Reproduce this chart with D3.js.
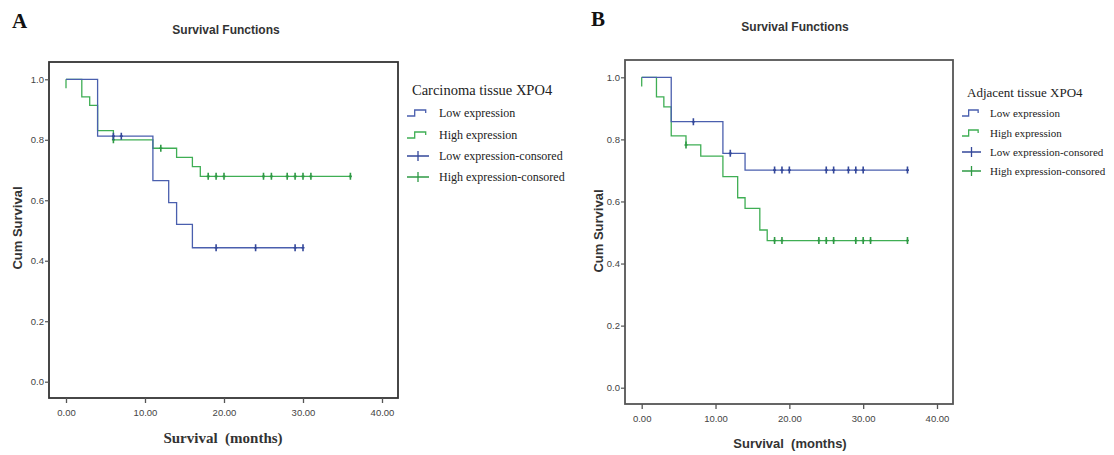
<!DOCTYPE html>
<html>
<head>
<meta charset="utf-8">
<script src="https://cdn.jsdelivr.net/npm/d3@7"></script>
<style>
  body { margin: 0; background: #fff; }
  .tick-label { font-family: Arial, "Liberation Sans", sans-serif; font-size: 9.5px; fill: #444; }
  .panel-title { font-family: Arial, "Liberation Sans", sans-serif; font-size: 12px; font-weight: bold; fill: #333; }
  .panel-letter { font-family: "Liberation Serif", "Times New Roman", serif; font-size: 21px; font-weight: bold; fill: #111; }
  .ytitle { font-family: Arial, "Liberation Sans", sans-serif; font-size: 13px; font-weight: bold; fill: #333; }
  .legend { font-family: "Liberation Serif", "Times New Roman", serif; fill: #222; }
</style>
</head>
<body>
<div id="chart"></div>
<script>
// axis ticks
const monthTicks = [0, 10, 20, 30, 40];
const survTicks = [0, 0.2, 0.4, 0.6, 0.8, 1.0];
const seriesNames = ['Low expression', 'High expression', 'Low expression-consored', 'High expression-consored'];

// Panel A - carcinoma tissue (step times in months, survival after step)
const aLowTimes = [0, 4, 11, 13, 14, 16, 30];
const aLowSurv = [1.0, 0.812, 0.665, 0.592, 0.52, 0.443, 0.443];
const aLowCensored = [6, 7, 19, 24, 29, 30];
const aHighTimes = [0, 2, 3, 4, 6, 11, 14, 16, 17, 36];
const aHighSurv = [1.0, 0.942, 0.914, 0.83, 0.80, 0.772, 0.742, 0.711, 0.679, 0.679];
const aHighCensored = [6, 12, 18, 19, 20, 25, 26, 28, 29, 30, 31, 36];

// Panel B - adjacent tissue
const bLowTimes = [0, 4, 11, 14, 36];
const bLowSurv = [1.0, 0.857, 0.755, 0.701, 0.701];
const bLowCensored = [7, 12, 18, 19, 20, 25, 26, 28, 29, 30, 36];
const bHighTimes = [0, 2, 3, 4, 6, 8, 11, 13, 14, 16, 17, 36];
const bHighSurv = [1.0, 0.937, 0.905, 0.811, 0.782, 0.746, 0.68, 0.612, 0.578, 0.508, 0.474, 0.474];
const bHighCensored = [6, 18, 19, 24, 25, 26, 29, 30, 31, 36];

const blue = '#4a5fae', green = '#3fae54';
const blueDark = '#34489a', greenDark = '#2f9a45';

const svg = d3.select('#chart').append('svg')
  .attr('width', 1114)
  .attr('height', 455);
svg.append('rect').attr('width', 1114).attr('height', 455).attr('fill', '#fff');

function survAt(times, surv, t) {
  let s = surv[0];
  for (let i = 0; i < times.length; i++) {
    if (times[i] <= t) s = surv[i];
  }
  return s;
}

function drawPanel(p) {
  const g = svg.append('g');
  const x = d3.scaleLinear().domain([0, 40]).range([p.x0, p.x40]);
  const y = d3.scaleLinear().domain([0, 1]).range([p.y0, p.y1]);

  // letter + title
  g.append('text').attr('class', 'panel-letter')
    .attr('x', p.letterX).attr('y', p.letterY).text(p.letter);
  g.append('text').attr('class', 'panel-title')
    .attr('x', p.titleX).attr('y', p.titleY)
    .attr('text-anchor', 'middle').text('Survival Functions');

  // frame
  g.append('rect')
    .attr('x', p.frame[0]).attr('y', p.frame[1])
    .attr('width', p.frame[2] - p.frame[0]).attr('height', p.frame[3] - p.frame[1])
    .attr('fill', 'none').attr('stroke', p.frameColor).attr('stroke-width', 1.8);

  // x axis
  const xAxis = d3.axisBottom(x).tickValues(monthTicks)
    .tickFormat(d3.format('.2f')).tickSize(5).tickPadding(6);
  const xg = g.append('g')
    .attr('transform', 'translate(0,' + p.frame[3] + ')')
    .call(xAxis);
  xg.select('.domain').remove();
  xg.selectAll('line').attr('stroke', '#555').attr('stroke-width', 1.3);
  xg.selectAll('text').attr('class', 'tick-label').attr('fill', null);

  // y axis
  const yAxis = d3.axisLeft(y).tickValues(survTicks)
    .tickFormat(d3.format('.1f')).tickSize(4).tickPadding(1);
  const yg = g.append('g')
    .attr('transform', 'translate(' + p.frame[0] + ',0)')
    .call(yAxis);
  yg.select('.domain').remove();
  yg.selectAll('line').attr('stroke', '#555').attr('stroke-width', 1.2);
  yg.selectAll('text').attr('class', 'tick-label').attr('fill', null);

  // axis titles
  g.append('text')
    .attr('x', p.xTitleX).attr('y', p.xTitleY)
    .attr('text-anchor', 'middle')
    .style('white-space', 'pre')
    .style('font-family', p.xTitleFont)
    .style('font-size', p.xTitleSize + 'px')
    .style('font-weight', 'bold')
    .style('fill', '#333')
    .text(p.xTitle);
  g.append('text').attr('class', 'ytitle')
    .attr('transform', 'translate(' + p.yTitleX + ',' + p.yTitleY + ') rotate(-90)')
    .attr('text-anchor', 'middle')
    .text('Cum Survival');

  const line = d3.line()
    .x(function(d) { return x(d[0]); })
    .y(function(d) { return y(d[1]); })
    .curve(d3.curveStepAfter);

  // start stub of high curve
  g.append('line')
    .attr('x1', x(0)).attr('x2', x(0))
    .attr('y1', y(1)).attr('y2', y(0.97))
    .attr('stroke', green).attr('stroke-width', 1.3);

  const curves = [
    { times: p.highTimes, surv: p.highSurv, cens: p.highCens, color: green, dark: greenDark },
    { times: p.lowTimes, surv: p.lowSurv, cens: p.lowCens, color: blue, dark: blueDark }
  ];
  curves.forEach(function(c) {
    const pts = c.times.map(function(t, i) { return [t, c.surv[i]]; });
    g.append('path')
      .datum(pts)
      .attr('d', line)
      .attr('fill', 'none')
      .attr('stroke', c.color)
      .attr('stroke-width', 1.3);
    g.selectAll(null)
      .data(c.cens)
      .enter()
      .append('path')
        .attr('d', function(d) {
          const cx = x(d), cy = y(survAt(c.times, c.surv, d));
          return 'M' + cx + ',' + (cy - 3.5) + 'v7M' + (cx - 1.5) + ',' + cy + 'h3';
        })
        .attr('fill', 'none')
        .attr('stroke', c.dark)
        .attr('stroke-width', 1.6);
  });

  // legend
  const lg = g.append('g').attr('class', 'legend');
  lg.append('text')
    .attr('x', p.legX + 5).attr('y', p.legTitleY)
    .style('font-size', p.legTitleSize + 'px')
    .text(p.legTitle);
  const legColors = [blue, green, blueDark, greenDark];
  seriesNames.forEach(function(name, i) {
    const cy = p.legItemY[i];
    const w = p.legIconW;
    if (i < 2) {
      lg.append('path')
        .attr('d', 'M' + p.legX + ',' + (cy + 3) + 'h' + (w * 0.35) + 'v-6h' + (w * 0.5) + 'v3')
        .attr('fill', 'none').attr('stroke', legColors[i]).attr('stroke-width', 1.3);
    } else {
      lg.append('path')
        .attr('d', 'M' + p.legX + ',' + cy + 'h' + w + 'M' + (p.legX + w / 2) + ',' + (cy - 5) + 'v10')
        .attr('fill', 'none').attr('stroke', legColors[i]).attr('stroke-width', 1.3);
    }
    lg.append('text')
      .attr('x', p.legX + w + p.legGap).attr('y', cy + 4)
      .style('font-size', p.legItemSize + 'px')
      .text(name);
  });
}

drawPanel({
  letter: 'A', letterX: 12, letterY: 28,
  titleX: 226, titleY: 34,
  frame: [49, 62, 398, 398], frameColor: '#333',
  x0: 66, x40: 382, y0: 381.7, y1: 79.3,
  xTitle: 'Survival  (months)', xTitleX: 223, xTitleY: 443,
  xTitleFont: '"Liberation Serif", "Times New Roman", serif', xTitleSize: 15,
  yTitleX: 22, yTitleY: 228,
  lowTimes: aLowTimes, lowSurv: aLowSurv, lowCens: aLowCensored,
  highTimes: aHighTimes, highSurv: aHighSurv, highCens: aHighCensored,
  legX: 407, legTitle: 'Carcinoma tissue XPO4', legTitleY: 95, legTitleSize: 14.5,
  legItemY: [113, 135, 156, 177], legIconW: 22, legGap: 10, legItemSize: 12
});

drawPanel({
  letter: 'B', letterX: 591, letterY: 26,
  titleX: 795, titleY: 31,
  frame: [625, 60, 953, 404], frameColor: '#555',
  x0: 641.7, x40: 937, y0: 387.7, y1: 77.3,
  xTitle: 'Survival  (months)', xTitleX: 790, xTitleY: 448,
  xTitleFont: 'Arial, "Liberation Sans", sans-serif', xTitleSize: 13,
  yTitleX: 603, yTitleY: 231,
  lowTimes: bLowTimes, lowSurv: bLowSurv, lowCens: bLowCensored,
  highTimes: bHighTimes, highSurv: bHighSurv, highCens: bHighCensored,
  legX: 962, legTitle: 'Adjacent tissue XPO4', legTitleY: 97, legTitleSize: 13,
  legItemY: [113, 133, 152, 171], legIconW: 19, legGap: 9, legItemSize: 11
});
</script>
</body>
</html>
